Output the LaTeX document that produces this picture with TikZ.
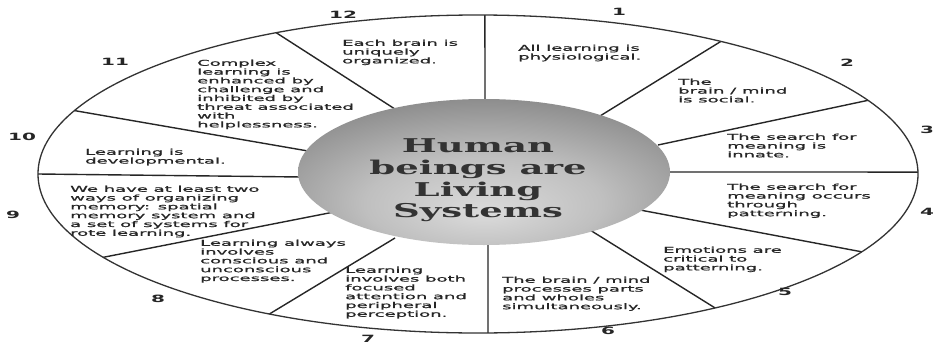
\documentclass[tikz,border=0pt]{standalone}
\usepackage{fontspec}
\newfontfamily\smallfont[FakeStretch=2.25,FakeBold=1.2]{DejaVu Sans}
\newfontfamily\numfont[FakeStretch=2.0]{DejaVu Sans}
\newfontfamily\titlefont[FakeStretch=1.95]{DejaVu Serif}
\pgfdeclareradialshading{sphere}{\pgfpoint{0bp}{-14bp}}{%
  color(0bp)=(black!14); color(16bp)=(black!25); color(32bp)=(black!44);
  color(48bp)=(black!58); color(70bp)=(black!64)}
\tikzset{
  spoke/.style={draw=black!85, line width=1.4pt},
  rim/.style={draw=black!80, line width=1.3pt},
  txt/.style={font=\smallfont\fontsize{8}{8.8}\selectfont, align=left,
    anchor=north west, inner sep=0pt, text=black!85},
  num/.style={font=\numfont\bfseries\fontsize{10}{10}\selectfont, inner sep=0pt, text=black!85},
  title/.style={font=\titlefont\bfseries\fontsize{19}{21.6}\selectfont, align=center,
    inner sep=0pt, text=black!80}
}
\begin{document}
\begin{tikzpicture}[x=1pt,y=-1pt]
\useasboundingbox (0,0) rectangle (936,348);
\fill[white] (0,0) rectangle (936,348);
% centres
\coordinate (O) at (478,174);
\coordinate (C) at (484,172);
% outer ends of the spokes (parametric angles on the outer ellipse)
\foreach \n/\a in {12/89.1, 1/56.5, 2/27.6, 3/0.7, 4/-29.3, 5/-57.4,
                   6/-88.7, 7/-118.3, 8/-148.4, 9/180, 10/156.5, 11/117.3}
  \coordinate (o\n) at ({478+440*cos(\a)},{174-159*sin(\a)});
% inner ends of the spokes
\coordinate (i12) at (485,104);
\coordinate (i1) at (600,116);
\coordinate (i2) at (658,145);
\coordinate (i3) at (668,172);
\coordinate (i4) at (640,210);
\coordinate (i5) at (590,230);
\coordinate (i6) at (488,242);
\coordinate (i7) at (395,238);
\coordinate (i8) at (334,212);
\coordinate (i9) at (302,177);
\coordinate (i10) at (308,151);
\coordinate (i11) at (398,111);
\foreach \n in {1,...,12}
  \draw[spoke] (o\n) -- (i\n);
% central shaded ellipse
\shade[shading=sphere] (C) ellipse (186 and 73);
% outer rim
\draw[rim] (O) ellipse (440 and 159);
% centre title
\node[title] (title) at (478,180.5) {Human\\beings are\\Living\\Systems};
% principle texts
\node[txt] (t1) at (518,44.5) {All learning is\\physiological.};
\node[txt] (t2) at (678,78.5) {The\\brain / mind\\is social.};
\node[txt] (t3) at (727,133.5) {The search for\\meaning is\\innate.};
\node[txt] (t4) at (727,183.5) {The search for\\meaning occurs\\through\\patterning.};
\node[txt] (t5) at (663,246.5) {Emotions are\\critical to\\patterning.};
\node[txt] (t6) at (502,276.5) {The brain / mind\\processes parts\\and wholes\\simultaneously.};
\node[txt] (t7) at (345,266.5) {Learning\\involves both\\focused\\attention and\\peripheral\\perception.};
\node[txt] (t8) at (200,239.5) {Learning always\\involves\\conscious and\\unconscious\\processes.};
\node[txt] (t9) at (70,185.5) {We have at least two\\ways of organizing\\memory: spatial\\memory system and\\a set of systems for\\rote learning.};
\node[txt] (t10) at (85,148.5) {Learning is\\developmental.};
\node[txt] (t11) at (197,59.5) {Complex\\learning is\\enhanced by\\challenge and\\inhibited by\\threat associated\\with\\helplessness.};
\node[txt] (t12) at (342,39.5) {Each brain is\\uniquely\\organized.};
% numbers
\node[num] (n12) at (343,15) {12};
\node[num] (n1) at (619,12) {1};
\node[num] (n2) at (847,63) {2};
\node[num] (n3) at (927,130) {3};
\node[num] (n4) at (927,212) {4};
\node[num] (n5) at (785,292) {5};
\node[num] (n6) at (608,331) {6};
\node[num] (n7) at (368,339) {7};
\node[num] (n8) at (158,299) {8};
\node[num] (n9) at (13,215) {9};
\node[num] (n10) at (22,137) {10};
\node[num] (n11) at (115,62) {11};
\end{tikzpicture}
\end{document}
